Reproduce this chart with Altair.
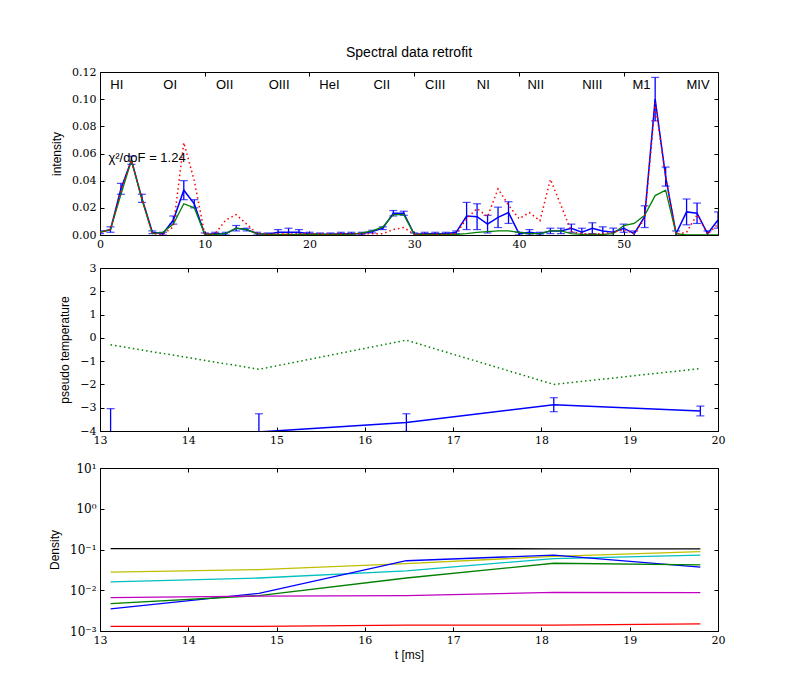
import altair as alt
import pandas as pd

# ---------------- top panel: spectral data ----------------
chan = list(range(60))
spec_blue = [0.002, 0.004, 0.034, 0.055, 0.027, 0.002, 0.001, 0.011, 0.033, 0.023,
             0.0005, 0.001, 0.001, 0.005, 0.004, 0.001, 0.0005, 0.002, 0.002, 0.002,
             0.001, 0.0005, 0.0005, 0.001, 0.001, 0.001, 0.0025, 0.005, 0.016, 0.016,
             0.0005, 0.001, 0.001, 0.001, 0.002, 0.014, 0.0135, 0.008, 0.013, 0.0165,
             0.001, 0.002, 0.001, 0.003, 0.003, 0.005, 0.002, 0.005, 0.003, 0.002,
             0.005, 0.001, 0.0135, 0.100, 0.043, 0.001, 0.017, 0.016, 0.001, 0.011]
spec_err = [0.001, 0.002, 0.004, 0.003, 0.003, 0.001, 0.001, 0.003, 0.007, 0.003,
            0.001, 0.001, 0.001, 0.002, 0.001, 0.001, 0.001, 0.002, 0.003, 0.002,
            0.001, 0.001, 0.001, 0.001, 0.001, 0.001, 0.001, 0.001, 0.002, 0.0015,
            0.001, 0.001, 0.001, 0.001, 0.001, 0.010, 0.0095, 0.0065, 0.0075, 0.008,
            0.001, 0.002, 0.001, 0.002, 0.002, 0.003, 0.003, 0.004, 0.003, 0.003,
            0.003, 0.002, 0.008, 0.016, 0.007, 0.002, 0.0095, 0.0075, 0.002, 0.006]
spec_green = [0.002, 0.004, 0.030, 0.055, 0.026, 0.001, 0.002, 0.008, 0.023, 0.020,
              0.0005, 0.0005, 0.001, 0.005, 0.004, 0.001, 0.0005, 0.0005, 0.0005, 0.0005,
              0.0005, 0.0005, 0.0005, 0.0005, 0.0005, 0.0015, 0.003, 0.006, 0.015, 0.015,
              0.0005, 0.0005, 0.0005, 0.0005, 0.0005, 0.001, 0.002, 0.0025, 0.003, 0.003,
              0.002, 0.001, 0.001, 0.003, 0.003, 0.001, 0.0005, 0.0005, 0.0005, 0.001,
              0.007, 0.0085, 0.0145, 0.029, 0.033, 0.001, 0.0, 0.0, 0.0, 0.0]
spec_red = [0.002, 0.004, 0.033, 0.055, 0.027, 0.001, 0.0005, 0.006, 0.068, 0.040,
            0.0005, 0.001, 0.011, 0.015, 0.008, 0.001, 0.0005, 0.001, 0.0005, 0.001,
            0.001, 0.001, 0.0005, 0.001, 0.001, 0.001, 0.001, 0.001, 0.004, 0.0055,
            0.0005, 0.0005, 0.0005, 0.0005, 0.001, 0.012, 0.0195, 0.0135, 0.034, 0.022,
            0.012, 0.0165, 0.0105, 0.041, 0.022, 0.0025, 0.001, 0.001, 0.001, 0.002,
            0.004, 0.001, 0.012, 0.097, 0.043, 0.0005, 0.002, 0.015, 0.0005, 0.008]

line_names = ["HI", "OI", "OII", "OIII", "HeI", "CII", "CIII", "NI", "NII", "NIII", "M1", "MIV"]
line_pos = [1.6, 6.7, 11.9, 17.1, 21.9, 26.9, 32.0, 36.6, 41.6, 47.0, 51.7, 57.1]
chi_text = ["\u03c7\u00b2/doF = 1.24"]
chi_x = [0.8]
chi_y = [0.057]

# ---------------- middle panel: pseudo temperature ----------------
t_ms = [13.12, 14.80, 16.47, 18.14, 19.80]
temp_blue = [-4.5, -4.04, -3.64, -2.87, -3.14]
temp_err = [1.46, 0.78, 0.38, 0.30, 0.21]
temp_green = [-0.3, -1.35, -0.1, -2.0, -1.32]

# ---------------- bottom panel: densities ----------------
dens = {
    "k": [0.105, 0.105, 0.105, 0.104, 0.104],
    "y": [0.028, 0.032, 0.045, 0.068, 0.089],
    "c": [0.016, 0.020, 0.030, 0.060, 0.073],
    "b": [0.0035, 0.0084, 0.053, 0.073, 0.037],
    "g": [0.0047, 0.0074, 0.020, 0.046, 0.042],
    "m": [0.0066, 0.0072, 0.0074, 0.0089, 0.0087],
    "r": [0.0013, 0.0013, 0.0014, 0.0014, 0.0015],
}
dens_colors = {"k": "#000000", "y": "#bfbf00", "c": "#00bfbf", "b": "#0000ff",
               "g": "#008000", "m": "#bf00bf", "r": "#ff0000"}

W, H = 618, 163
SERIF = "DejaVu Serif"
SANS = "Liberation Sans"


def main_x(values, title=None, fmt=None):
    kw = dict(orient="bottom", values=values, offset=-4, tickSize=4, domain=False,
              grid=False, labelPadding=3, labelFlush=False, labelFont=SERIF,
              labelFontSize=11, labelColor="black", tickColor="black")
    if fmt:
        kw["format"] = fmt
    if title:
        kw.update(title=title, titlePadding=4, titleFont=SANS, titleFontSize=12,
                  titleFontWeight="normal", titleColor="black")
    else:
        kw["title"] = None
    return alt.Axis(**kw)


def main_y(values, title, fmt=None, expr=None, size=11):
    kw = dict(orient="left", values=values, offset=-4, tickSize=4, domain=False,
              grid=False, labelPadding=4, title=title, titlePadding=8, labelFlush=False,
              labelFont=SERIF, labelFontSize=size, labelColor="black", tickColor="black",
              titleFont=SANS, titleFontSize=12, titleFontWeight="normal", titleColor="black")
    if fmt:
        kw["format"] = fmt
    if expr:
        kw["labelExpr"] = expr
    return alt.Axis(**kw)


def side_x(values):
    return alt.Axis(orient="top", values=values, offset=-4, tickSize=4, domain=False,
                    grid=False, labels=False, title=None, tickColor="black")


def side_y(values):
    return alt.Axis(orient="right", values=values, offset=-4, tickSize=4, domain=False,
                    grid=False, labels=False, title=None, tickColor="black")


# ---------- top ----------
top_df = pd.DataFrame({"x": chan, "blue": spec_blue, "err": spec_err,
                       "green": spec_green, "red": spec_red})
top_df["lo"] = top_df["blue"] - top_df["err"]
top_df["hi"] = top_df["blue"] + top_df["err"]
xs_top = alt.Scale(domain=[0, 59], nice=False, zero=False)
ys_top = alt.Scale(domain=[0, 0.12], nice=False)
xt_vals = [0, 10, 20, 30, 40, 50]
yt_vals = [0, 0.02, 0.04, 0.06, 0.08, 0.10, 0.12]

tb = alt.Chart(top_df)
top_blue = tb.mark_line(color="#0000ff", strokeWidth=1.5, clip=True).encode(
    x=alt.X("x:Q", scale=xs_top, axis=main_x(xt_vals)),
    y=alt.Y("blue:Q", scale=ys_top, axis=main_y(yt_vals, "intensity", fmt=".2f")))
top_rule = tb.mark_rule(color="#0000ff", strokeWidth=1.3, clip=True).encode(
    x=alt.X("x:Q", scale=xs_top, axis=None),
    y=alt.Y("lo:Q", scale=ys_top, axis=None), y2="hi:Q")
top_cap1 = tb.mark_tick(color="#0000ff", orient="horizontal", size=8, thickness=1.2, clip=True).encode(
    x=alt.X("x:Q", scale=xs_top, axis=None), y=alt.Y("lo:Q", scale=ys_top, axis=None))
top_cap2 = tb.mark_tick(color="#0000ff", orient="horizontal", size=8, thickness=1.2, clip=True).encode(
    x=alt.X("x:Q", scale=xs_top, axis=None), y=alt.Y("hi:Q", scale=ys_top, axis=None))
top_green = tb.mark_line(color="#008000", strokeWidth=1.3, clip=True).encode(
    x=alt.X("x:Q", scale=xs_top, axis=side_x(xt_vals)),
    y=alt.Y("green:Q", scale=ys_top, axis=side_y(yt_vals)))
top_red = tb.mark_line(color="#ff0000", strokeWidth=1.5, strokeDash=[1.5, 3], clip=True).encode(
    x=alt.X("x:Q", scale=xs_top, axis=None),
    y=alt.Y("red:Q", scale=ys_top, axis=None))
lab_df = pd.DataFrame({"name": line_names, "pos": line_pos})
top_labels = alt.Chart(lab_df).mark_text(font=SANS, fontSize=13, baseline="middle",
                                         align="center", color="black").encode(
    x=alt.X("pos:Q", scale=xs_top, axis=None), y=alt.value(13), text="name:N")
chi_df = pd.DataFrame({"t": chi_text, "cx": chi_x, "cy": chi_y})
top_chi = alt.Chart(chi_df).mark_text(font=SANS, fontSize=13, baseline="middle",
                                      align="left", color="black").encode(
    x=alt.X("cx:Q", scale=xs_top, axis=None), y=alt.Y("cy:Q", scale=ys_top, axis=None),
    text="t:N")

top = alt.layer(top_blue, top_rule, top_cap1, top_cap2, top_green, top_red,
                top_labels, top_chi).resolve_axis(x="independent", y="independent").properties(
    width=W, height=H,
    title=alt.Title("Spectral data retrofit", font=SANS, fontSize=14,
                    fontWeight="normal", offset=6, color="black"))

# ---------- middle ----------
mid_df = pd.DataFrame({"t": t_ms, "blue": temp_blue, "err": temp_err, "green": temp_green})
mid_df["lo"] = mid_df["blue"] - mid_df["err"]
mid_df["hi"] = mid_df["blue"] + mid_df["err"]
xs_t = alt.Scale(domain=[13, 20], nice=False, zero=False)
ys_mid = alt.Scale(domain=[-4, 3], nice=False, zero=False)
xm_vals = [13, 14, 15, 16, 17, 18, 19, 20]
ym_vals = [-4, -3, -2, -1, 0, 1, 2, 3]
mb = alt.Chart(mid_df)
mid_blue = mb.mark_line(color="#0000ff", strokeWidth=1.5, clip=True).encode(
    x=alt.X("t:Q", scale=xs_t, axis=main_x(xm_vals)),
    y=alt.Y("blue:Q", scale=ys_mid, axis=main_y(ym_vals, "pseudo temperature", fmt="d")))
mid_rule = mb.mark_rule(color="#0000ff", strokeWidth=1.3, clip=True).encode(
    x=alt.X("t:Q", scale=xs_t, axis=None),
    y=alt.Y("lo:Q", scale=ys_mid, axis=None), y2="hi:Q")
mid_cap1 = mb.mark_tick(color="#0000ff", orient="horizontal", size=8, thickness=1.2, clip=True).encode(
    x=alt.X("t:Q", scale=xs_t, axis=None), y=alt.Y("lo:Q", scale=ys_mid, axis=None))
mid_cap2 = mb.mark_tick(color="#0000ff", orient="horizontal", size=8, thickness=1.2, clip=True).encode(
    x=alt.X("t:Q", scale=xs_t, axis=None), y=alt.Y("hi:Q", scale=ys_mid, axis=None))
mid_green = mb.mark_line(color="#008000", strokeWidth=1.5, strokeDash=[1.5, 3], clip=True).encode(
    x=alt.X("t:Q", scale=xs_t, axis=side_x(xm_vals)),
    y=alt.Y("green:Q", scale=ys_mid, axis=side_y(ym_vals)))
mid = alt.layer(mid_blue, mid_rule, mid_cap1, mid_cap2, mid_green).resolve_axis(
    x="independent", y="independent").properties(width=W, height=H)

# ---------- bottom ----------
rows = []
for key, vals in dens.items():
    for tt, v in zip(t_ms, vals):
        rows.append({"t": tt, "val": v, "s": key})
bot_df = pd.DataFrame(rows)
ys_log = alt.Scale(type="log", domain=[0.001, 10], nice=False)
yl_vals = [0.001, 0.01, 0.1, 1, 10]
log_expr = ("round(log(datum.value)/LN10) == -3 ? '10\u207b\u00b3' : "
            "round(log(datum.value)/LN10) == -2 ? '10\u207b\u00b2' : "
            "round(log(datum.value)/LN10) == -1 ? '10\u207b\u00b9' : "
            "round(log(datum.value)/LN10) == 0 ? '10\u2070' : '10\u00b9'")
keys = list(dens.keys())
bb = alt.Chart(bot_df)
bot_lines = bb.mark_line(strokeWidth=1.3, clip=True).encode(
    x=alt.X("t:Q", scale=xs_t, axis=main_x(xm_vals, title="t [ms]")),
    y=alt.Y("val:Q", scale=ys_log, axis=main_y(yl_vals, "Density", expr=log_expr, size=12)),
    color=alt.Color("s:N", scale=alt.Scale(domain=keys, range=[dens_colors[k] for k in keys]),
                    legend=None),
    detail="s:N")
bot_frame = bb.mark_point(opacity=0).encode(
    x=alt.X("t:Q", scale=xs_t, axis=side_x(xm_vals)),
    y=alt.Y("val:Q", scale=ys_log, axis=side_y(yl_vals)))
bot = alt.layer(bot_lines, bot_frame).resolve_axis(
    x="independent", y="independent").properties(width=W, height=H)

chart = alt.vconcat(top, alt.vconcat(mid, bot, spacing=15), spacing=11).properties(
    padding={"left": 40, "top": 37, "right": 10, "bottom": 10},
    background="white"
).configure_view(stroke="black", strokeWidth=1)

chart.save("out.html", embed_options={"renderer": "svg", "actions": False})
